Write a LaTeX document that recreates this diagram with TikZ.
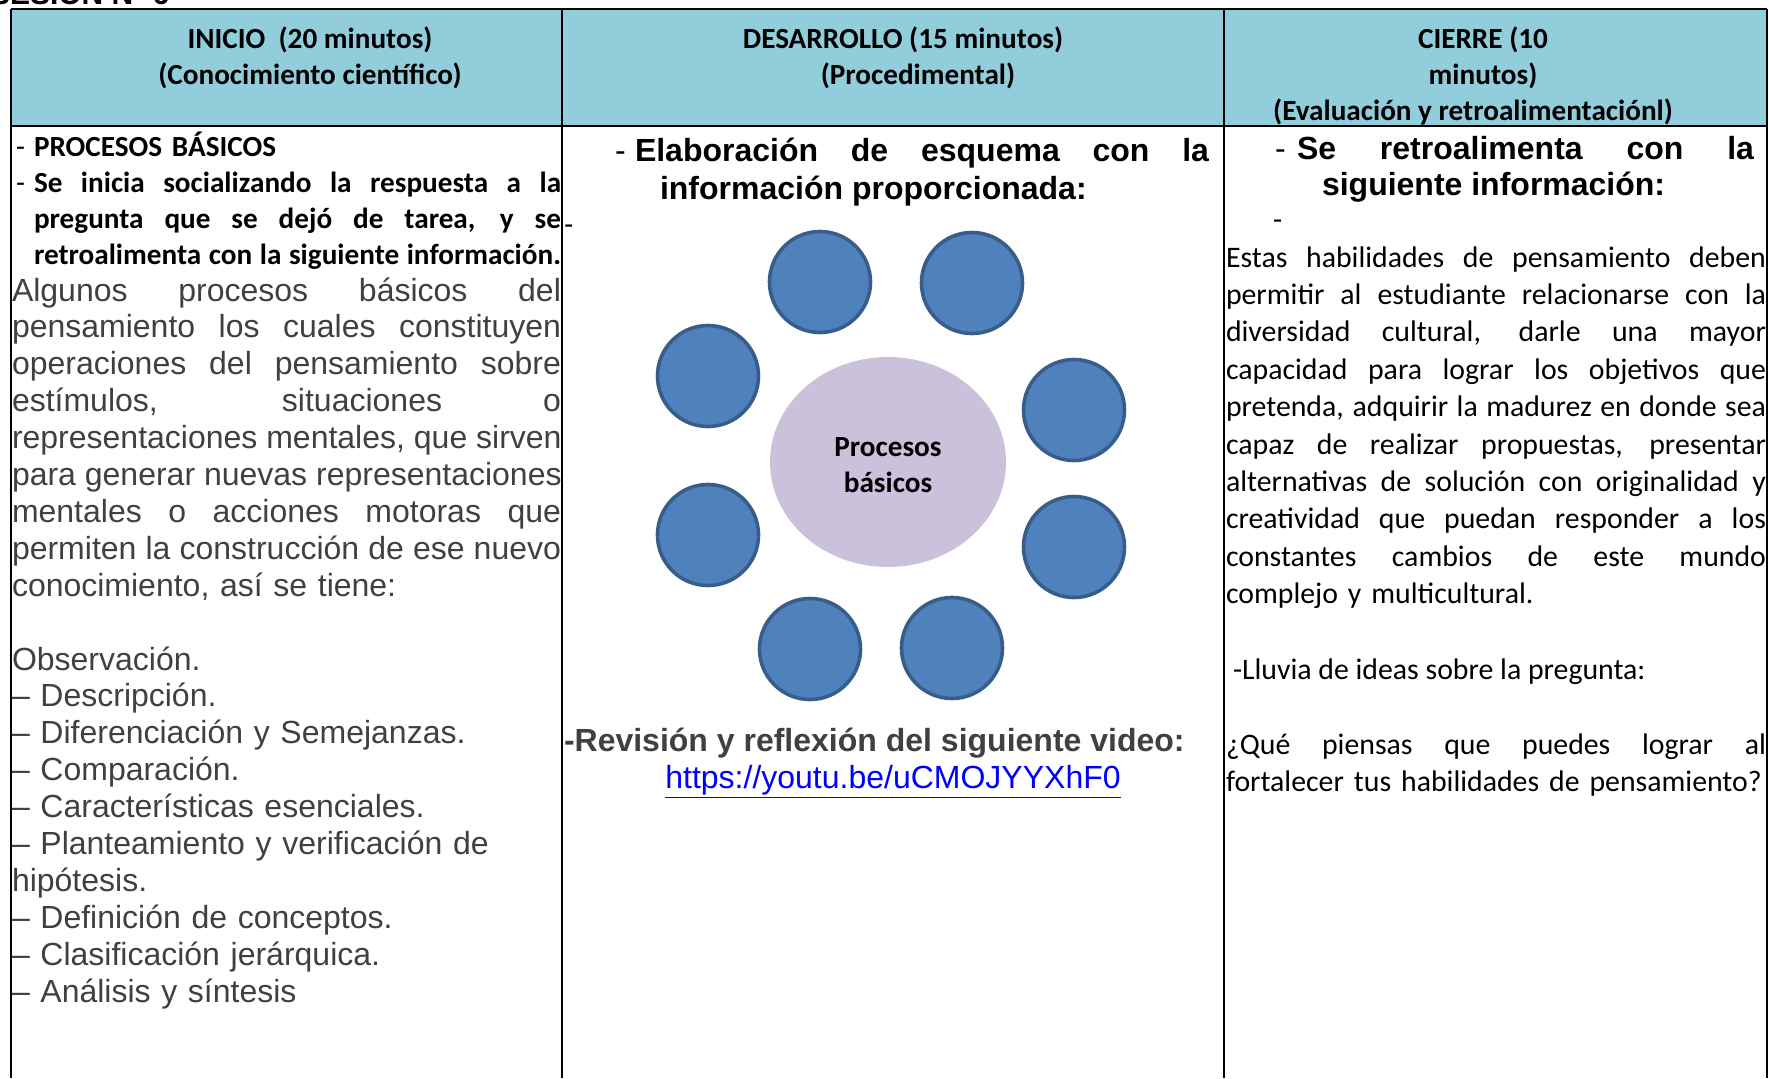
\documentclass[tikz,border=0pt]{standalone}
\usepackage{fontspec}
\usetikzlibrary{shapes.geometric}
\setmainfont{Carlito}
\newfontfamily\arialf{Liberation Sans}
\definecolor{hdrblue}{HTML}{92CDDC}
\definecolor{txtgray}{HTML}{404040}
\definecolor{circfill}{HTML}{4F81BD}
\definecolor{circline}{HTML}{385D8A}
\definecolor{lav}{HTML}{CCC1DA}
\definecolor{linkblue}{HTML}{0000FF}
\newcommand\jw{270pt}
\newcommand\jbox[2]{\hbox to #1{\spaceskip=\fontdimen2\font plus 1fil\relax\xspaceskip=\spaceskip #2}}
\newcommand\jl[1]{\jbox{\jw}{#1}\par}
\begin{document}
\begin{tikzpicture}[x=0.5pt,y=-0.5pt,
  every node/.style={inner sep=0pt, outer sep=0pt},
  hdr/.style={anchor=base, font=\fontsize{14.6}{18}\selectfont\bfseries},
  cal/.style={anchor=base west, font=\fontsize{14.9}{18.7}\selectfont},
  calb/.style={anchor=base west, font=\fontsize{14.6}{18}\selectfont\bfseries},
  ari/.style={anchor=base west, font=\arialf\fontsize{16}{18.45}\selectfont, text=txtgray},
  arib/.style={anchor=base west, font=\arialf\bfseries\fontsize{16}{19}\selectfont},
  bubble/.style={circle, fill=circfill, draw=circline, line width=1.8pt, minimum size=50.5pt},
  core/.style={ellipse, fill=lav, minimum width=118pt, minimum height=105pt},
  grid/.style={line width=1pt, black}
]
\useasboundingbox (0,0) rectangle (1769,1078);
% cut-off title above the table
\node[anchor=base west, font=\arialf\bfseries\fontsize{15}{18}\selectfont] (ses) at (-10,4) {SESIÓN Nº 6};
% header band
\fill[hdrblue] (11,9) rectangle (1767,126);
% table rules
\draw[grid] (11,9) -- (1767,9);
\draw[grid] (11,126) -- (1767,126);
\draw[grid] (11,9) -- (11,1078);
\draw[grid] (562,9) -- (562,1078);
\draw[grid] (1224,9) -- (1224,1078);
\draw[grid] (1767,9) -- (1767,1078);
% headers
\node[hdr] (h1a) at (310,48) {INICIO\ \ (20 minutos)};
\node[hdr] (h1b) at (310,84) {(Conocimiento científico)};
\node[hdr] (h2a) at (903,48) {DESARROLLO (15 minutos)};
\node[hdr] (h2b) at (918,84) {(Procedimental)};
\node[hdr] (h3a) at (1483,48) {CIERRE (10};
\node[hdr] (h3b) at (1483,84) {minutos)};
\node[hdr] (h3c) at (1473,120) {(Evaluación y retroalimentaciónl)};
% column 1
\node[calb, text width=263.5pt] (c1b) at (34,156) {\renewcommand\jw{263.5pt}%
\llap{\mdseries\makebox[9pt][l]{-}}PROCESOS BÁSICOS\par
\jl{\llap{\mdseries\makebox[9pt][l]{-}}Se inicia socializando la respuesta a la}
\jl{pregunta que se dejó de tarea, y se}
\jl{retroalimenta con la siguiente información.}};
\node[anchor=base west, font=\arialf\fontsize{14}{16}\selectfont] (sd1) at (564,233) {-};
\node[ari, text width=274.5pt] (c1p) at (12,301) {\renewcommand\jw{274.5pt}%
\jl{Algunos procesos básicos del}
\jl{pensamiento los cuales constituyen}
\jl{operaciones del pensamiento sobre}
\jl{estímulos, situaciones o}
\jl{representaciones mentales, que sirven}
\jl{para generar nuevas representaciones}
\jl{mentales o acciones motoras que}
\jl{permiten la construcción de ese nuevo}
\mbox{conocimiento, así se tiene:}};
\node[ari, text width=274.5pt] (c1l) at (12,670) {%
Observación.\par
– Descripción.\par
– Diferenciación y Semejanzas.\par
– Comparación.\par
– Características esenciales.\par
– Planteamiento y verificación de\par
hipótesis.\par
– Definición de conceptos.\par
– Clasificación jerárquica.\par
– Análisis y síntesis};
% column 2
\node[arib] (c2h1) at (635,161) {\llap{\mdseries\makebox[10pt][l]{-}}\jbox{287pt}{Elaboración de esquema con la}};
\node[arib] (c2h2) at (660,199) {información proporcionada:};
\node[core] (core) at (888,462) {};
\node[anchor=base, text width=110pt, align=center, font=\fontsize{14.6}{18}\selectfont\bfseries] (coretxt) at (888,456) {Procesos\\básicos};
\node[bubble] (b1) at (820,282) {};
\node[bubble] (b2) at (972,283) {};
\node[bubble] (b3) at (708,376) {};
\node[bubble] (b4) at (1074,410) {};
\node[bubble] (b5) at (708,535) {};
\node[bubble] (b6) at (1074,547) {};
\node[bubble] (b7) at (810,649) {};
\node[bubble] (b8) at (952,648) {};
\node[arib, text=txtgray] (rev) at (564,751) {-Revisión y reflexión del siguiente video:};
\node[ari, anchor=base, text=linkblue] (link) at (893,788) {\underline{https://youtu.be/uCMOJYYXhF0}};
% column 3
\node[arib] (c3h1) at (1297,159) {\llap{\mdseries\makebox[11pt][l]{-}}\jbox{228.5pt}{Se retroalimenta con la}};
\node[arib] (c3h2) at (1322,195) {siguiente información:};
\node[cal] (c3d) at (1273,229) {-};
\node[cal, text width=270pt] (c3p) at (1226,267) {\renewcommand\jw{270pt}%
\jl{Estas habilidades de pensamiento deben}
\jl{permitir al estudiante relacionarse con la}
\jl{diversidad cultural, darle una mayor}
\jl{capacidad para lograr los objetivos que}
\jl{pretenda, adquirir la madurez en donde sea}
\jl{capaz de realizar propuestas, presentar}
\jl{alternativas de solución con originalidad y}
\jl{creatividad que puedan responder a los}
\jl{constantes cambios de este mundo}
\mbox{complejo y multicultural.}};
\node[cal] (c3l) at (1233,679) {-Lluvia de ideas sobre la pregunta:};
\node[cal, text width=270pt] (c3q) at (1226,754) {\renewcommand\jw{270pt}%
\jl{¿Qué piensas que puedes lograr al}
\mbox{fortalecer tus habilidades de pensamiento?}};
\end{tikzpicture}
\end{document}
